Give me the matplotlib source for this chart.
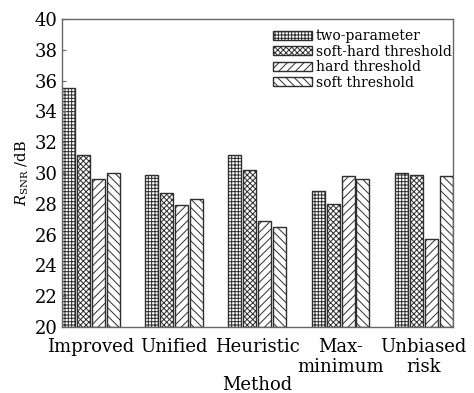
import matplotlib
matplotlib.use("Agg")
import matplotlib.pyplot as plt
import numpy as np

methods = ["Improved", "Unified", "Heuristic", "Max-\nminimum", "Unbiased\nrisk"]
series_names = ["two-parameter", "soft-hard threshold", "hard threshold", "soft threshold"]
two_parameter = [35.5, 29.9, 31.2, 28.8, 30.0]
soft_hard = [31.2, 28.7, 30.2, 28.0, 29.9]
hard = [29.6, 27.9, 26.9, 29.8, 25.7]
soft = [30.0, 28.3, 26.5, 29.6, 29.8]
y_ticks = [20, 22, 24, 26, 28, 30, 32, 34, 36, 38, 40]

plt.rcParams["font.family"] = "DejaVu Serif"
plt.rcParams["mathtext.fontset"] = "dejavuserif"
plt.rcParams["hatch.color"] = "#3a3a3a"
plt.rcParams["hatch.linewidth"] = 0.7

fig = plt.figure(figsize=(4.74, 3.93), dpi=100)
ax = fig.add_axes([62 / 474, 1 - 327 / 393, 391 / 474, 308 / 393])

hatches = ["+++++", "xxxxxx", "////", "\\\\\\\\"]
all_series = [two_parameter, soft_hard, hard, soft]
x = np.arange(len(methods))
step = 0.18
width = 0.156
for k, (vals, name, h) in enumerate(zip(all_series, series_names, hatches)):
    ax.bar(x + k * step, np.array(vals) - 20, width=width, bottom=20, align="edge",
           facecolor="white", edgecolor="#2e2e2e", linewidth=1.0, hatch=h, label=name)

ax.set_xlim(0, 4.70)
ax.set_ylim(20, 40)
ax.set_yticks(y_ticks)
ax.set_yticklabels([str(t) for t in y_ticks], fontsize=13)
ax.set_xticks(x + (3 * step + width) / 2)
ax.set_xticklabels(methods, fontsize=13, linespacing=1.15)
ax.tick_params(axis="y", direction="in", length=3, color="#666666", pad=3)
ax.tick_params(axis="x", length=0, pad=8)
for s in ax.spines.values():
    s.set_color("#666666")
    s.set_linewidth(1.0)

ax.set_ylabel(r"$R_{\rm SNR}$ /dB", fontsize=10.5, labelpad=3)
ax.set_xlabel("Method", fontsize=13, labelpad=0)

leg = ax.legend(loc="upper right", bbox_to_anchor=(1.0, 1 - 9 / 308), frameon=False,
                fontsize=10, handlelength=2.75, handleheight=0.6, handletextpad=0.3,
                labelspacing=0.1, borderaxespad=0.0, borderpad=0.1)

fig.savefig("out.png", dpi=100)
